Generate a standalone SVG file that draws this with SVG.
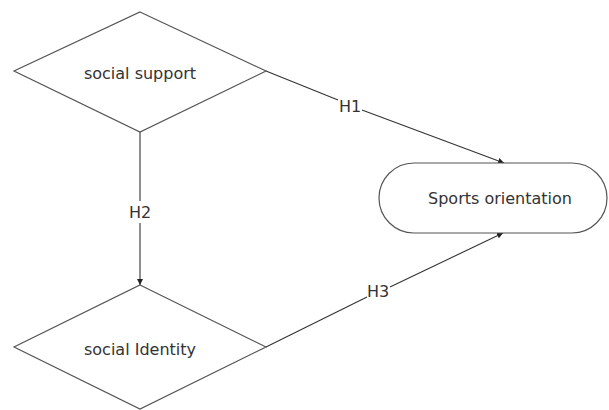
<svg xmlns="http://www.w3.org/2000/svg" width="609" height="410" viewBox="0 0 609 410">
<style>
.shape{fill:#fff;stroke:#555;stroke-width:1.2}
.edge{fill:none;stroke:#333;stroke-width:1.1}
.t{font-family:"DejaVu Sans",Verdana,sans-serif;font-size:16px;fill:#333;text-anchor:middle;dominant-baseline:central}
</style>
<defs>
<marker id="ah" viewBox="0 0 10 10" refX="10" refY="5" markerWidth="6" markerHeight="6" orient="auto" markerUnits="userSpaceOnUse">
<path d="M0,0 L10,5 L0,10 z" fill="#222"/>
</marker>
</defs>
<rect width="609" height="410" fill="#fff"/>
<g id="edges">
<g id="e-h1">
<path class="edge" d="M266,71 L338,100"/>
<path class="edge" d="M362,110 L504,163" marker-end="url(#ah)"/>
<text class="t" x="350" y="106">H1</text>
</g>
<g id="e-h2">
<path class="edge" d="M140,132 L140,201"/>
<path class="edge" d="M140,223 L140,285" marker-end="url(#ah)"/>
<text class="t" x="140" y="212">H2</text>
</g>
<g id="e-h3">
<path class="edge" d="M266,347 L367,297"/>
<path class="edge" d="M390,287 L503,233" marker-end="url(#ah)"/>
<text class="t" x="378" y="291">H3</text>
</g>
</g>
<g id="n-support">
<polygon class="shape" points="140,12 266,71 140,132 14,71"/>
<text class="t" x="140" y="73">social support</text>
</g>
<g id="n-identity">
<polygon class="shape" points="140,285 266,347 140,409 14,347"/>
<text class="t" x="140" y="349">social Identity</text>
</g>
<g id="n-sports">
<rect class="shape" x="379" y="163" width="228" height="70" rx="35" ry="35"/>
<text class="t" x="500" y="198">Sports orientation</text>
</g>
</svg>
